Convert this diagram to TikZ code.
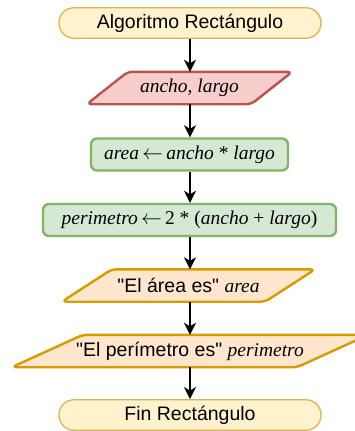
\documentclass[tikz,border=0pt]{standalone}
\usepackage{fontspec}
\setmainfont{Liberation Serif}
\setsansfont{Liberation Sans}[Ligatures=TeXOff]
\usetikzlibrary{arrows.meta,backgrounds}
\definecolor{termfill}{HTML}{FFF2CC}
\definecolor{termdraw}{HTML}{D6B656}
\definecolor{redfill}{HTML}{F8CECC}
\definecolor{reddraw}{HTML}{B85450}
\definecolor{greenfill}{HTML}{D5E8D4}
\definecolor{greendraw}{HTML}{82B366}
\definecolor{orfill}{HTML}{FFE6CC}
\definecolor{ordraw}{HTML}{D79B00}
\newcommand{\asg}{\,$\leftarrow$\,}
\begin{document}
\begin{tikzpicture}[x=1pt,y=-1pt,
  term/.style={font=\sffamily\fontsize{19.5}{23}\selectfont, inner sep=0pt, draw=termdraw, fill=termfill, line width=1.3pt, rounded corners=15pt, minimum width=262pt, minimum height=30.5pt},
  procbox/.style={font=\fontsize{19.5}{23}\selectfont, inner sep=0pt, draw=greendraw, fill=greenfill, line width=2.4pt, rounded corners=6pt, minimum height=32pt},
  paratext/.style={font=\fontsize{19.5}{23}\selectfont, inner sep=0pt, outer sep=1.2pt, minimum height=30pt},
  parashape/.style={line width=2.4pt, rounded corners=5pt, line join=round},
  arr/.style={line width=1.5pt, -{Stealth[length=12pt,width=12pt,inset=3.5pt]}}
]
\useasboundingbox (0,0) rectangle (355,431);

\node[term] (start) at (190,23) {Algoritmo Rectángulo};
\node[paratext, minimum width=203pt] (p1) at (189.5,88) {\textit{ancho, largo}};
\node[procbox, minimum width=197pt] (r1) at (189.5,154.5) {\textit{area}\asg\textit{ancho} * \textit{largo}};
\node[procbox, minimum width=293pt] (r2) at (189.5,220) {\textit{perimetro}\asg 2 * (\textit{ancho} + \textit{largo})};
\node[paratext, minimum width=251pt] (p2) at (188.5,285.5) {\sffamily "El área es" \rmfamily\textit{area}};
\node[paratext, minimum width=354pt] (p3) at (190,351) {\sffamily "El perímetro es" \rmfamily\textit{perimetro}};
\node[term] (fin) at (190,415) {Fin Rectángulo};

\begin{scope}[on background layer]
\draw[parashape, draw=reddraw, fill=redfill] ([xshift=41pt]p1.north west) -- (p1.north east) -- ([xshift=-41pt]p1.south east) -- (p1.south west) -- cycle;
\draw[parashape, draw=ordraw, fill=orfill] ([xshift=50pt]p2.north west) -- (p2.north east) -- ([xshift=-50pt]p2.south east) -- (p2.south west) -- cycle;
\draw[parashape, draw=ordraw, fill=orfill] ([xshift=71pt]p3.north west) -- (p3.north east) -- ([xshift=-71pt]p3.south east) -- (p3.south west) -- cycle;
\end{scope}

\draw[arr] (start.south) -- (start.south |- p1.north);
\draw[arr] (p1.south -| start.south) -- (start.south |- r1.north);
\draw[arr] (r1.south -| start.south) -- (start.south |- r2.north);
\draw[arr] (r2.south -| start.south) -- (start.south |- p2.north);
\draw[arr] (p2.south -| start.south) -- (start.south |- p3.north);
\draw[arr] (p3.south -| start.south) -- (fin.north);
\end{tikzpicture}
\end{document}
